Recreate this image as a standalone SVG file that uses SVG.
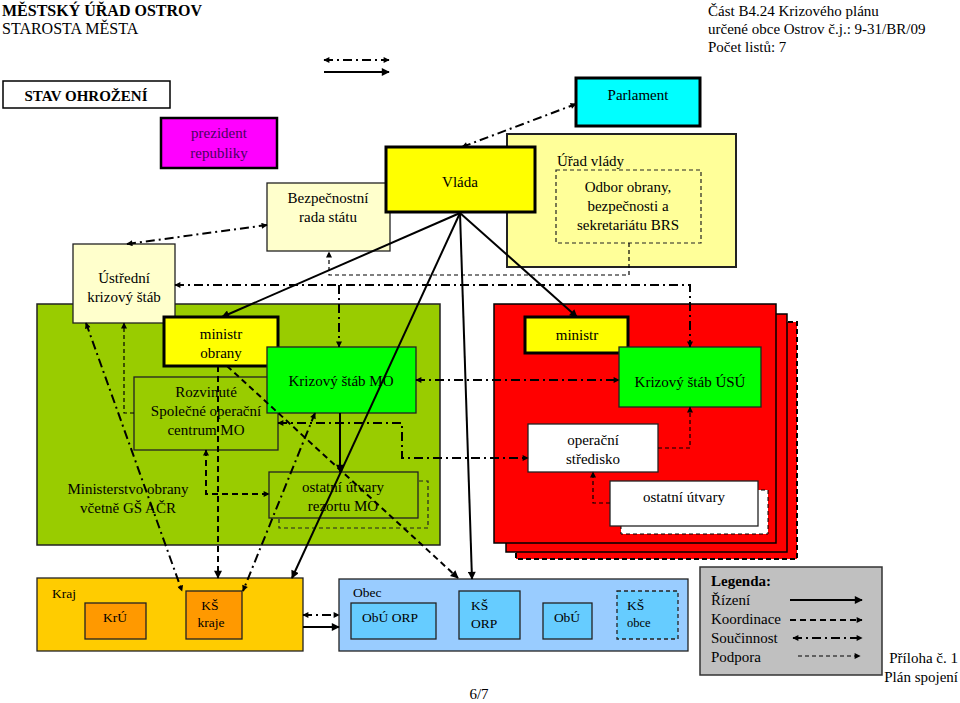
<svg xmlns="http://www.w3.org/2000/svg" width="960" height="703" viewBox="0 0 960 703">
<defs>
<marker id="ah" viewBox="0 0 10 10" refX="9" refY="5" markerWidth="9" markerHeight="8" orient="auto-start-reverse" markerUnits="userSpaceOnUse"><path d="M0,0 L10,5 L0,10 z" fill="#000"/></marker>
<marker id="as" viewBox="0 0 10 10" refX="9" refY="5" markerWidth="7" markerHeight="6" orient="auto-start-reverse" markerUnits="userSpaceOnUse"><path d="M0,0 L10,5 L0,10 z" fill="#000"/></marker>
</defs>
<style>
text{font-family:"Liberation Serif","Times New Roman",serif;font-size:15px;fill:#000}
.c{text-anchor:middle}
.b{font-weight:bold}
.s{font-size:13.5px}
.box{stroke:#222;stroke-width:1.3}
.thick{stroke:#000;stroke-width:3}
.solid{stroke:#000;stroke-width:2;fill:none}
.dd{stroke:#000;stroke-width:2;stroke-dasharray:9 4 2 4;fill:none}
.dash{stroke:#000;stroke-width:2;stroke-dasharray:6 4;fill:none}
.thin{stroke:#000;stroke-width:1.2;stroke-dasharray:4 3;fill:none}
</style>
<rect width="960" height="703" fill="#fff"/>

<g id="header">
<text x="2" y="16" class="b" style="font-size:16px">MĚSTSKÝ ÚŘAD OSTROV</text>
<text x="2" y="34" style="font-size:16px">STAROSTA MĚSTA</text>
<text x="708" y="16">Část B4.24 Krizového plánu</text>
<text x="708" y="34">určené obce Ostrov č.j.: 9-31/BR/09</text>
<text x="708" y="52">Počet listů: 7</text>
</g>

<g id="stav">
<rect x="3" y="81" width="167" height="27" fill="#fff" stroke="#000" stroke-width="1.5"/>
<text x="86" y="101" class="c b">STAV OHROŽENÍ</text>
</g>

<g id="parlament">
<rect x="576" y="78" width="124" height="48" fill="#00FFFF" class="thick"/>
<text x="638" y="100" class="c">Parlament</text>
</g>

<g id="prezident">
<rect x="161" y="118" width="116" height="50" fill="#FF00FF" stroke="#000" stroke-width="2.5"/>
<text x="219" y="138" class="c" style="fill:#4B0060">prezident</text>
<text x="219" y="158" class="c" style="fill:#4B0060">republiky</text>
</g>

<g id="urad-vlady">
<rect x="507" y="134" width="229" height="133" fill="#FFFF99" stroke="#222" stroke-width="2"/>
<text x="557" y="166">Úřad vlády</text>
<rect x="556" y="170" width="145" height="73" fill="none" stroke="#222" stroke-width="1.2" stroke-dasharray="4 3"/>
<text x="628" y="192" class="c">Odbor obrany,</text>
<text x="628" y="211" class="c">bezpečnosti a</text>
<text x="628" y="230" class="c">sekretariátu BRS</text>
</g>

<g id="brs">
<rect x="267" y="183" width="123" height="68" fill="#FFFFCC" class="box"/>
<text x="328" y="203" class="c">Bezpečnostní</text>
<text x="328" y="222" class="c">rada státu</text>
</g>

<g id="vlada">
<rect x="386" y="147" width="149" height="65" fill="#FFFF00" class="thick"/>
<text x="460" y="187" class="c">Vláda</text>
</g>

<g id="mo">
<rect x="37" y="304" width="403" height="241" fill="#99CC00" stroke="#222" stroke-width="1.5"/>
<text x="128" y="494" class="c">Ministerstvo obrany</text>
<text x="128" y="513" class="c">včetně GŠ AČR</text>
</g>

<g id="uks">
<rect x="73" y="244" width="102" height="79" fill="#FFFFCC" class="box"/>
<text x="124" y="283" class="c">Ústřední</text>
<text x="124" y="302" class="c">krizový štáb</text>
</g>

<g id="ministr-obrany">
<rect x="164" y="317" width="114" height="49" fill="#FFFF00" class="thick"/>
<text x="221" y="339" class="c">ministr</text>
<text x="221" y="358" class="c">obrany</text>
</g>

<g id="soc">
<rect x="134" y="377" width="144" height="73" fill="#99CC00" class="box"/>
<text x="206" y="397" class="c">Rozvinuté</text>
<text x="206" y="416" class="c">Společné operační</text>
<text x="206" y="435" class="c">centrum MO</text>
</g>

<g id="ks-mo">
<rect x="267" y="347" width="149" height="66" fill="#00FF00" class="box"/>
<text x="341" y="386" class="c">Krizový štáb MO</text>
</g>

<g id="ostatni-mo">
<rect x="279" y="481" width="149" height="47" fill="none" stroke="#222" stroke-width="1.2" stroke-dasharray="4 3"/>
<rect x="269" y="472" width="149" height="46" fill="#99CC00" class="box"/>
<text x="343" y="492" class="c">ostatní útvary</text>
<text x="343" y="511" class="c">rezortu MO</text>
</g>

<g id="usu">
<rect x="516" y="322" width="281" height="237" fill="#FF0000" stroke="#000" stroke-width="2" stroke-dasharray="5 3"/>
<rect x="506" y="314" width="281" height="238" fill="#FF0000" stroke="#000" stroke-width="1.5"/>
<rect x="494" y="304" width="282" height="239" fill="#FF0000" stroke="#000" stroke-width="1.5"/>
</g>

<g id="ministr-usu">
<rect x="525" y="317" width="103" height="36" fill="#FFFF00" class="thick"/>
<text x="577" y="340" class="c">ministr</text>
</g>

<g id="ks-usu">
<rect x="619" y="347" width="142" height="60" fill="#00FF00" class="box"/>
<text x="690" y="387" class="c">Krizový štáb ÚSÚ</text>
</g>

<g id="op-stredisko">
<rect x="528" y="424" width="130" height="48" fill="#fff" class="box"/>
<text x="593" y="445" class="c">operační</text>
<text x="593" y="464" class="c">středisko</text>
</g>

<g id="ostatni-usu">
<rect x="621" y="490" width="147" height="44" fill="#fff" stroke="#000" stroke-width="1" stroke-dasharray="4 3"/>
<rect x="610" y="481" width="148" height="45" fill="#fff" class="box"/>
<text x="684" y="502" class="c">ostatní útvary</text>
</g>

<g id="kraj">
<rect x="37" y="578" width="266" height="73" fill="#FFCC00" class="box"/>
<text x="52" y="598" class="s">Kraj</text>
</g>
<g id="kru">
<rect x="85" y="603" width="61" height="36" fill="#FF9900" class="box"/>
<text x="115" y="622" class="c s">KrÚ</text>
</g>
<g id="ks-kraje">
<rect x="186" y="591" width="56" height="48" fill="#FF9900" class="box"/>
<text x="210" y="610" class="c s">KŠ</text>
<text x="211" y="627" class="c s">kraje</text>
</g>

<g id="obec">
<rect x="339" y="579" width="349" height="72" fill="#99CCFF" class="box"/>
<text x="353" y="597" class="s">Obec</text>
</g>
<g id="obu-orp">
<rect x="351" y="603" width="85" height="36" fill="#66CCFF" class="box"/>
<text x="390" y="622" class="c s">ObÚ ORP</text>
</g>
<g id="ks-orp">
<rect x="459" y="591" width="61" height="48" fill="#66CCFF" class="box"/>
<text x="471" y="610" class="s">KŠ</text>
<text x="471" y="628" class="s">ORP</text>
</g>
<g id="obu">
<rect x="543" y="603" width="49" height="36" fill="#66CCFF" class="box"/>
<text x="567" y="622" class="c s">ObÚ</text>
</g>
<g id="ks-obce">
<rect x="617" y="591" width="61" height="48" fill="#66CCFF" stroke="#222" stroke-width="1.3" stroke-dasharray="4 3"/>
<text x="627" y="610" class="s">KŠ</text>
<text x="627" y="627" class="s" style="font-size:12.5px">obce</text>
</g>

<g id="legend">
<rect x="700" y="567" width="182" height="108" fill="#C0C0C0" stroke="#333" stroke-width="1.5"/>
<text x="711" y="586" class="b">Legenda:</text>
<text x="711" y="605">Řízení</text>
<text x="711" y="624">Koordinace</text>
<text x="711" y="643">Součinnost</text>
<text x="711" y="662">Podpora</text>
<line x1="790" y1="600" x2="862" y2="600" class="solid" marker-end="url(#ah)"/>
<line x1="790" y1="620" x2="862" y2="620" class="dash" marker-end="url(#as)"/>
<line x1="793" y1="638" x2="862" y2="638" class="dd" marker-start="url(#as)" marker-end="url(#as)"/>
<line x1="798" y1="656" x2="860" y2="656" class="thin" marker-end="url(#as)"/>
</g>

<g id="footer">
<text x="479" y="699" class="c">6/7</text>
<text x="958" y="663" style="text-anchor:end">Příloha č. 1</text>
<text x="958" y="682" style="text-anchor:end">Plán spojení</text>
</g>

<g id="connectors">
<line x1="324" y1="60" x2="389" y2="60" class="dd" marker-start="url(#as)" marker-end="url(#as)"/>
<line x1="324" y1="72" x2="389" y2="72" class="solid" marker-end="url(#ah)"/>
<line x1="462" y1="147" x2="576" y2="104" class="dd" marker-start="url(#as)" marker-end="url(#as)"/>
<line x1="127" y1="244" x2="267" y2="225" class="dd" marker-start="url(#as)" marker-end="url(#as)"/>
<polyline points="629,243 629,275 329,275 329,252" class="thin" marker-end="url(#as)"/>
<polyline points="175,285 690,285 690,347" class="dd" marker-start="url(#as)" marker-end="url(#as)"/>
<line x1="339" y1="285" x2="339" y2="347" class="dd" marker-end="url(#as)"/>
<line x1="460" y1="213" x2="222" y2="317" class="solid" marker-end="url(#ah)"/>
<line x1="460" y1="213" x2="577" y2="317" class="solid" marker-end="url(#ah)"/>
<line x1="460" y1="213" x2="292" y2="578" class="solid" marker-end="url(#ah)"/>
<line x1="460" y1="213" x2="472" y2="579" class="solid" marker-end="url(#ah)"/>
<line x1="340" y1="413" x2="340" y2="472" class="solid" marker-end="url(#ah)"/>
<line x1="416" y1="380" x2="619" y2="380" class="dd" marker-start="url(#as)" marker-end="url(#as)"/>
<polyline points="278,423 402,423 402,458 528,458" class="dd" marker-start="url(#as)" marker-end="url(#as)"/>
<polyline points="134,413 124,413 124,323" class="thin" marker-end="url(#as)"/>
<polyline points="206,450 206,494 269,494" class="dash" marker-start="url(#as)" marker-end="url(#as)"/>
<line x1="218" y1="366" x2="218" y2="578" class="dash" marker-end="url(#ah)"/>
<line x1="227" y1="366" x2="458" y2="578" class="dash" marker-end="url(#ah)"/>
<line x1="86" y1="323" x2="182" y2="591" class="dd" marker-start="url(#as)" marker-end="url(#as)"/>
<line x1="315" y1="413" x2="243" y2="591" class="dd" marker-start="url(#as)" marker-end="url(#as)"/>
<polyline points="658,448 690,448 690,407" class="thin" marker-end="url(#as)"/>
<polyline points="610,503 593,503 593,472" class="thin" marker-end="url(#as)"/>
<line x1="303" y1="615" x2="339" y2="615" class="dd" marker-start="url(#as)" marker-end="url(#as)"/>
<line x1="303" y1="627" x2="339" y2="627" class="solid" marker-end="url(#ah)"/>
</g>
</svg>
